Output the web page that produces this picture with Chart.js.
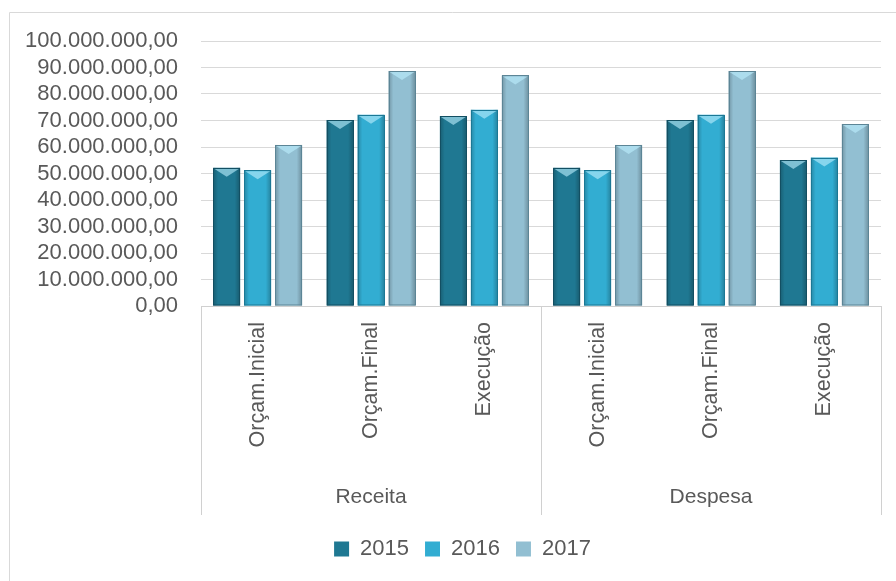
<!DOCTYPE html>
<html lang="pt">
<head>
<meta charset="UTF-8" />
<title>Receita e Despesa 2015-2017</title>
<style>
  * { margin: 0; padding: 0; box-sizing: border-box; }
  body { width: 896px; height: 581px; background: #ffffff; overflow: hidden; }
  #chart { display: block; }
</style>
</head>
<body>
<canvas id="chart" width="896" height="581"></canvas>
<script src="https://cdn.jsdelivr.net/npm/chart.js@4/dist/chart.umd.min.js"></script>
<script>
  // categories: two levels (group / item)
  const groups = ["Receita", "Despesa"];
  const items = ["Orçam.Inicial", "Orçam.Final", "Execução"];
  const categories = groups.flatMap(g => items.map(i => i));

  const years = ["2015", "2016", "2017"];
  const values2015 = [52200000, 70200000, 71700000, 52200000, 70200000, 55100000];
  const values2016 = [51200000, 72200000, 74100000, 51200000, 72200000, 56000000];
  const values2017 = [60800000, 88700000, 87000000, 60800000, 88700000, 68700000];

  const yTicks = [0, 10000000, 20000000, 30000000, 40000000, 50000000, 60000000, 70000000, 80000000, 90000000, 100000000];

  const fillColors = ["#1f7892", "#32add2", "#92bfd2"];
  const edgeColors = ["#134f62", "#1b7895", "#5c8596"];
  const textColor = "#595959";
  const fontFamily = "'Liberation Sans', Arial, sans-serif";

  const fmt = v => v.toLocaleString("de-DE", { minimumFractionDigits: 2, maximumFractionDigits: 2 });

  // frame, bevel shading on bars, group separators and labels
  const decor = {
    id: "decor",
    afterLayout(chart) {
      // legend sits a bit right of the canvas centre in the original
      chart.legend.left += 22;
      chart.legend.right += 22;
    },
    beforeDraw(chart) {
      const c = chart.ctx;
      c.save();
      c.strokeStyle = "#d9d9d9";
      c.lineWidth = 1;
      c.beginPath();
      c.moveTo(9.5, 581);
      c.lineTo(9.5, 12.5);
      c.lineTo(896, 12.5);
      c.stroke();
      c.restore();
    },
    afterDatasetsDraw(chart) {
      const c = chart.ctx;
      c.save();
      chart.data.datasets.forEach((ds, di) => {
        chart.getDatasetMeta(di).data.forEach(bar => {
          const left = bar.x - bar.width / 2;
          const w = bar.width;
          const top = bar.y;
          const bottom = bar.base;
          // side shading
          const g = c.createLinearGradient(left, 0, left + w, 0);
          g.addColorStop(0, "rgba(0,0,0,0.22)");
          g.addColorStop(0.18, "rgba(0,0,0,0.0)");
          g.addColorStop(0.8, "rgba(0,0,0,0.0)");
          g.addColorStop(1, "rgba(0,0,0,0.25)");
          c.fillStyle = g;
          c.fillRect(left, top, w, bottom - top);
          // top bevel
          c.fillStyle = "rgba(190,240,255,0.6)";
          c.beginPath();
          c.moveTo(left + 1, top + 1);
          c.lineTo(left + w - 1, top + 1);
          c.lineTo(bar.x, top + 9);
          c.closePath();
          c.fill();
          c.strokeStyle = edgeColors[di];
          c.lineWidth = 1;
          c.strokeRect(Math.round(left) + 0.5, Math.round(top) + 0.5, Math.round(w) - 1, bottom - Math.round(top) - 1);
        });
      });
      c.restore();

      // group separators and group labels under the x axis
      const xs = chart.scales.x;
      const area = chart.chartArea;
      const lineBottom = 515;
      c.save();
      c.strokeStyle = "#d0d0d0";
      c.lineWidth = 1;
      const n = items.length;
      const step = (area.right - area.left) / categories.length;
      for (let k = 0; k <= groups.length; k++) {
        const x = Math.round(area.left + k * n * step) + 0.5;
        c.beginPath();
        c.moveTo(x, area.bottom);
        c.lineTo(x, lineBottom);
        c.stroke();
      }
      c.fillStyle = textColor;
      c.font = "21px " + fontFamily;
      c.textAlign = "center";
      c.textBaseline = "middle";
      groups.forEach((g, k) => {
        const x0 = xs.getPixelForValue(k * n);
        const x1 = xs.getPixelForValue(k * n + n - 1);
        c.fillText(g, (x0 + x1) / 2, 497);
      });
      c.restore();
    }
  };

  new Chart(document.getElementById("chart"), {
    type: "bar",
    data: {
      labels: categories,
      datasets: [
        { label: years[0], data: values2015, backgroundColor: fillColors[0] },
        { label: years[1], data: values2016, backgroundColor: fillColors[1] },
        { label: years[2], data: values2017, backgroundColor: fillColors[2] }
      ]
    },
    plugins: [decor],
    options: {
      responsive: false,
      animation: false,
      layout: { padding: { top: 41, right: 15, bottom: 11, left: 0 } },
      datasets: { bar: { categoryPercentage: 0.82, barPercentage: 0.87 } },
      scales: {
        x: {
          grid: { display: false },
          border: { display: true, color: "#d0d0d0" },
          ticks: {
            color: textColor,
            font: { family: fontFamily, size: 21.5 },
            maxRotation: 90,
            minRotation: 90,
            padding: 8,
            autoSkip: false
          },
          afterFit(axis) { axis.height = 216; }
        },
        y: {
          min: 0,
          max: 100000000,
          border: { display: false },
          grid: { color: "#d9d9d9", drawTicks: false, lineWidth: 1 },
          afterBuildTicks(axis) { axis.ticks = yTicks.map(v => ({ value: v })); },
          ticks: {
            color: textColor,
            font: { family: fontFamily, size: 22 },
            padding: 23,
            autoSkip: false,
            callback: v => fmt(v)
          },
          afterFit(axis) { axis.width = 201; }
        }
      },
      plugins: {
        tooltip: { enabled: false },
        legend: {
          position: "bottom",
          labels: {
            color: textColor,
            font: { family: fontFamily, size: 22 },
            boxWidth: 15,
            boxHeight: 15,
            padding: 16
          }
        }
      }
    }
  });
</script>
</body>
</html>
